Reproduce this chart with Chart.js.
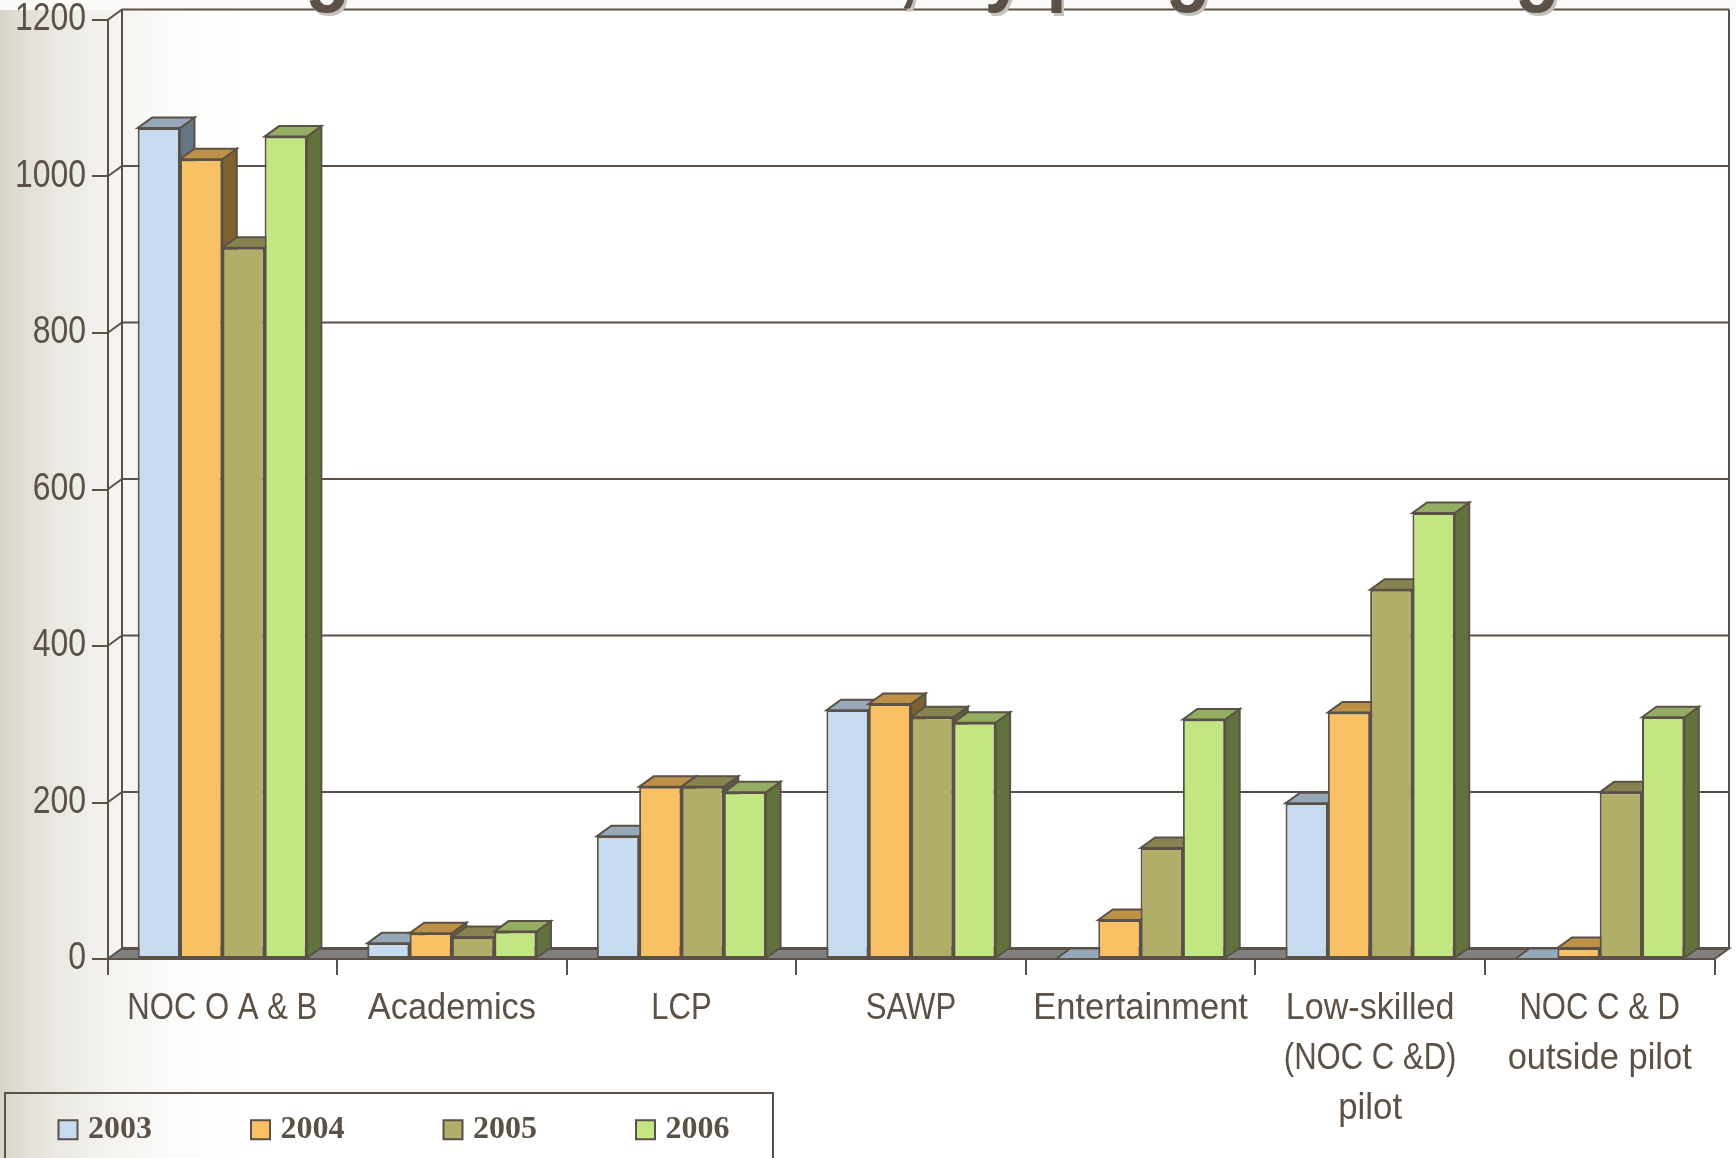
<!DOCTYPE html>
<html><head><meta charset="utf-8">
<script src="https://cdn.jsdelivr.net/npm/chart.js@4"></script>
<style>
html,body{margin:0;padding:0;width:1736px;height:1158px;overflow:hidden;background:#fff}
#bg{position:absolute;left:0;top:0;width:1736px;height:1158px;background:linear-gradient(90deg,#d8d4c9 0,#dedbd1 12px,#ebe9e3 60px,#f4f3f0 110px,#fbfbfa 170px,#fff 240px)}
#strip{position:absolute;left:0;top:0;width:1736px;height:10px;background:#fafaf8}
#c{position:absolute;left:0;top:0}
#title{position:absolute;left:131px;top:-80px;margin:0;padding:0;text-align:left;white-space:nowrap;font:bold 87px/90px "Liberation Sans",sans-serif;color:#5b5146;text-shadow:3px 3px 0 #c4c2be;transform:scaleX(.85);transform-origin:0 0}
#title span{letter-spacing:-1.6px}
</style></head>
<body>
<div id="bg"></div><div id="strip"></div>
<canvas id="c" width="1736" height="1158"></canvas>
<h1 id="title"><span>Foreign worker entries</span>, by program categories</h1>
<script>
const categories = ["NOC O A & B","Academics","LCP","SAWP","Entertainment",["Low-skilled","(NOC C &D)","pilot"],["NOC C & D","outside pilot"]];
const values2003 = [1062,20,157,318,0,199,0];
const values2004 = [1022,33,220,326,50,315,14];
const values2005 = [909,28,220,309,142,472,213];
const values2006 = [1051,35,213,302,306,570,309];
const yTicksMax = 1200, yTickStep = 200;

const INK = "#5b5146";
const frontColors = ["#c6dbf0","#f9c163","#b1ae6a","#c2e681"];
const topColors   = ["#96a8ba","#bc9147","#868350","#93ad62"];
const sideColors  = ["#667582","#7d6230","#5e5b3e","#62723f"];
const DX = 14.5, DY = 10.5;

function poly(ctx, pts, fill){
  ctx.beginPath();
  pts.forEach((p,i)=> i ? ctx.lineTo(p[0],p[1]) : ctx.moveTo(p[0],p[1]));
  ctx.closePath();
  ctx.fillStyle = fill; ctx.fill();
  ctx.lineWidth = 2; ctx.strokeStyle = INK; ctx.stroke();
}

// Axis labels are a condensed face in the reference; capitals squeeze more than lowercase.
const canvas = document.getElementById("c");
const rawCtx = canvas.getContext("2d");
const rawFill = rawCtx.fillText.bind(rawCtx);
rawCtx.fillText = function(text,x,y,mw){
  if (rawCtx.font.includes("Liberation Sans")) {
    const s = String(text), lower = (s.match(/[a-z]/g)||[]).length / Math.max(1,s.length);
    rawCtx.save(); rawCtx.translate(x,y); rawCtx.scale(0.84+0.1*lower,1);
    rawFill(s,0,0); rawCtx.restore();
  } else { mw===undefined ? rawFill(text,x,y) : rawFill(text,x,y,mw); }
};

const threeD = {
  id:"threeD",
  beforeLayout(chart){
    const lg = chart.legend;
    if (!lg._patched) {
      const fit = Object.getPrototypeOf(lg).fit;
      lg.fit = function(){ fit.call(this); this.height = 0; };
      lg._patched = true;
    }
  },
  afterLayout(chart){ chart.legend.left = -40.5; chart.legend.top = 1009.3; },
  beforeDraw(chart){
    const c = chart.ctx; c.save();
    c.strokeStyle = INK; c.lineWidth = 2;
    c.strokeRect(5,1093,768,100);
    c.restore();
  },
  beforeDatasetsDraw(chart){
    const c = chart.ctx, a = chart.chartArea, y = chart.scales.y;
    c.save();
    c.strokeStyle = INK; c.lineWidth = 2;
    y.ticks.forEach(t=>{
      const p = y.getPixelForValue(t.value);
      if (t.value > 0) {
        c.beginPath(); c.moveTo(a.left,p); c.lineTo(a.left+DX,p-DY); c.lineTo(a.right+DX,p-DY); c.stroke();
      }
    });
    c.beginPath(); c.moveTo(a.left+DX,a.top-DY); c.lineTo(a.left+DX,a.bottom-DY); c.stroke();
    c.beginPath(); c.moveTo(a.right+DX,a.top-DY); c.lineTo(a.right+DX,a.bottom-DY); c.stroke();
    poly(c,[[a.left,a.bottom],[a.right,a.bottom],[a.right+DX,a.bottom-DY],[a.left+DX,a.bottom-DY]],"#808080");
    c.lineWidth = 3; c.beginPath(); c.moveTo(a.left+DX,a.bottom-DY); c.lineTo(a.right+DX,a.bottom-DY); c.stroke();
    chart.data.labels.forEach((_,i)=>{
      chart.data.datasets.forEach((ds,k)=>{
        const b = chart.getDatasetMeta(k).data[i];
        const l = b.x-b.width/2, r = b.x+b.width/2, t = b.y, base = b.base;
        if (base - t > 0.5) poly(c,[[r,base],[r+DX,base-DY],[r+DX,t-DY],[r,t]],sideColors[k]);
        poly(c,[[l,t],[r,t],[r+DX,t-DY],[l+DX,t-DY]],topColors[k]);
      });
    });
    c.restore();
  }
};

const mk = (label,data,k)=>({label,data,backgroundColor:frontColors[k],borderColor:INK,borderWidth:2,borderSkipped:false,barPercentage:1,categoryPercentage:0.737});

new Chart(canvas,{
  type:"bar",
  data:{labels:categories,datasets:[mk("2003",values2003,0),mk("2004",values2004,1),mk("2005",values2005,2),mk("2006",values2006,3)]},
  plugins:[threeD],
  options:{
    responsive:false,animation:false,devicePixelRatio:1,
    layout:{autoPadding:false,padding:{top:20,right:21.5,left:0,bottom:0}},
    plugins:{
      title:{display:false},tooltip:{enabled:false},
      legend:{display:true,position:"bottom",align:"start",labels:{
        usePointStyle:true,pointStyle:"rect",boxWidth:8,boxHeight:19,padding:104.5,
        color:INK,font:{family:'"Liberation Serif",serif',size:32,weight:"bold"}}}
    },
    scales:{
      x:{
        afterFit(s){s.height=199;s.paddingLeft=0;s.paddingRight=0;},
        border:{display:true,color:INK,width:2},
        grid:{display:true,drawOnChartArea:false,drawTicks:true,tickLength:16,color:INK,lineWidth:2,offset:true},
        ticks:{autoSkip:false,maxRotation:0,minRotation:0,padding:8.5,color:INK,
          font:{family:'"Liberation Sans",sans-serif',size:37,lineHeight:1.35}}
      },
      y:{
        min:0,max:yTicksMax,
        afterFit(s){s.width=107.5;s.paddingTop=0;s.paddingBottom=0;},
        border:{display:true,color:INK,width:2},
        grid:{display:true,drawOnChartArea:false,drawTicks:true,tickLength:15.5,color:INK,lineWidth:2},
        ticks:{stepSize:yTickStep,padding:6,color:INK,callback:v=>String(v),
          font:{family:'"Liberation Sans",sans-serif',size:38}}
      }
    }
  }
});
</script>
</body></html>
